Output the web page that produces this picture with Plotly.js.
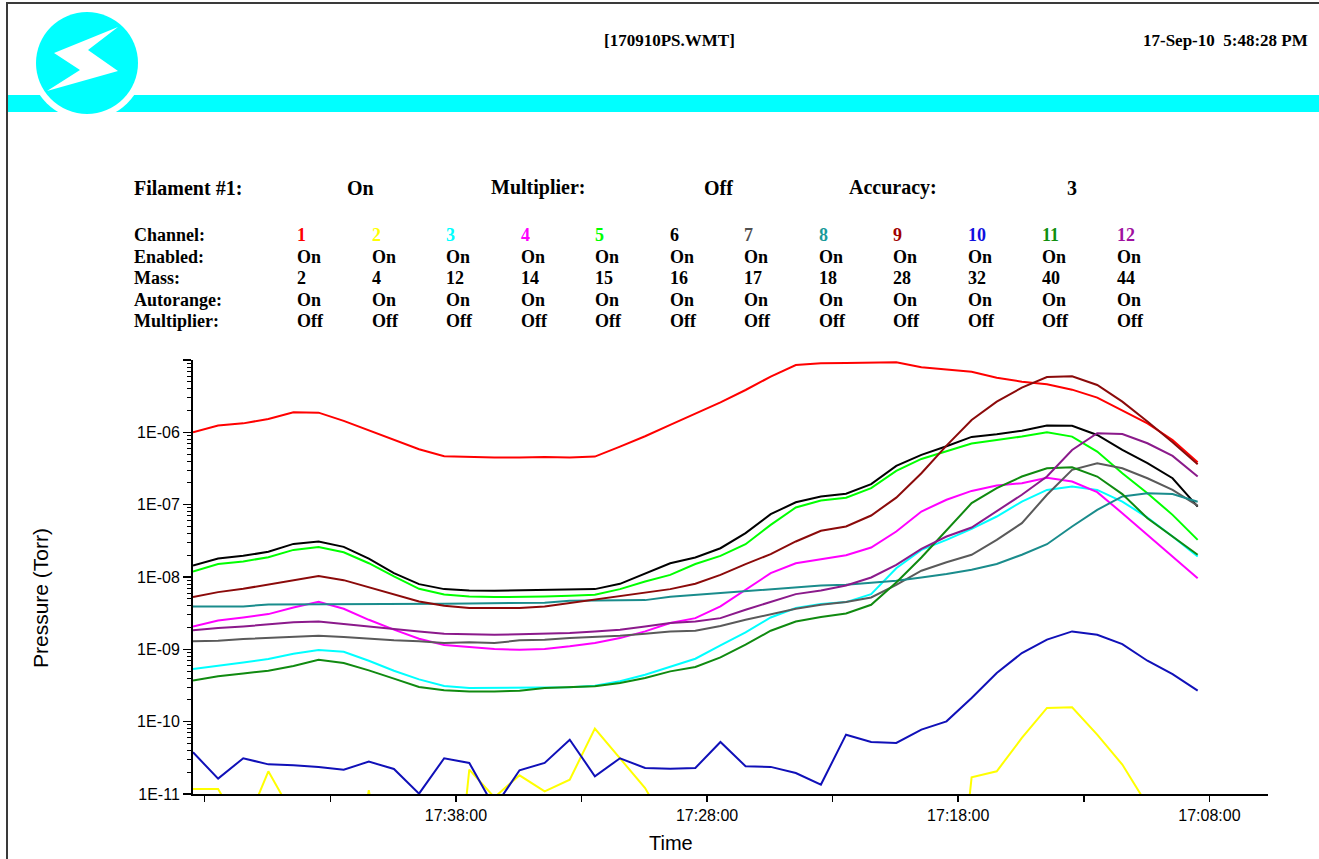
<!DOCTYPE html>
<html><head><meta charset="utf-8">
<script src="https://cdn.plot.ly/plotly-3.0.1.min.js"></script>
<style>html,body{margin:0;padding:0;background:#fff;overflow:hidden}#chart{width:1319px;height:859px}</style>
</head><body><div id="chart"></div>
<script>
// ---------------- data ----------------
const times = [
'2010-09-17 17:48:28','2010-09-17 17:47:28','2010-09-17 17:46:28','2010-09-17 17:45:28','2010-09-17 17:44:28',
'2010-09-17 17:43:28','2010-09-17 17:42:28','2010-09-17 17:41:28','2010-09-17 17:40:28','2010-09-17 17:39:28',
'2010-09-17 17:38:28','2010-09-17 17:37:28','2010-09-17 17:36:28','2010-09-17 17:35:28','2010-09-17 17:34:28',
'2010-09-17 17:33:28','2010-09-17 17:32:28','2010-09-17 17:31:28','2010-09-17 17:30:28','2010-09-17 17:29:28',
'2010-09-17 17:28:28','2010-09-17 17:27:28','2010-09-17 17:26:28','2010-09-17 17:25:28','2010-09-17 17:24:28',
'2010-09-17 17:23:28','2010-09-17 17:22:28','2010-09-17 17:21:28','2010-09-17 17:20:28','2010-09-17 17:19:28',
'2010-09-17 17:18:28','2010-09-17 17:17:28','2010-09-17 17:16:28','2010-09-17 17:15:28','2010-09-17 17:14:28',
'2010-09-17 17:13:28','2010-09-17 17:12:28','2010-09-17 17:11:28','2010-09-17 17:10:28','2010-09-17 17:09:28',
'2010-09-17 17:08:28'];

const channels   = ['1','2','3','4','5','6','7','8','9','10','11','12'];
const enabled    = ['On','On','On','On','On','On','On','On','On','On','On','On'];
const masses     = ['2','4','12','14','15','16','17','18','28','32','40','44'];
const autorange  = ['On','On','On','On','On','On','On','On','On','On','On','On'];
const multiplier = ['Off','Off','Off','Off','Off','Off','Off','Off','Off','Off','Off','Off'];
const rowLabels  = ['Channel:','Enabled:','Mass:','Autorange:','Multiplier:'];
const statusLabels = ['Filament #1:','On','Multiplier:','Off','Accuracy:','3'];
const fileName = '[170910PS.WMT]';
const stamp = '17-Sep-10\u00a0\u00a05:48:28 PM';

const numberColors = ['#ff0000','#ffff00','#00ffff','#ff00ff','#00ff00','#000000','#505050','#1a9a9a','#a00000','#1010e0','#109010','#a010a0'];
const lineColors   = ['#ff0000','#ffff00','#00ffff','#ff00ff','#00ff00','#000000','#5a5a5a','#1a8c8c','#8b0a0a','#1010b8','#108a10','#8b1a8b'];

const ch1 = [1.0e-6,1.24e-6,1.33e-6,1.53e-6,1.89e-6,1.87e-6,1.44e-6,1.07e-6,7.85e-7,5.84e-7,4.67e-7,4.53e-7,4.48e-7,4.48e-7,4.57e-7,4.48e-7,4.62e-7,6.35e-7,8.83e-7,1.27e-6,1.80e-6,2.60e-6,3.85e-6,5.89e-6,8.53e-6,9.0e-6,9.08e-6,9.29e-6,9.29e-6,7.92e-6,7.43e-6,6.90e-6,5.70e-6,5.02e-6,4.61e-6,3.89e-6,3.02e-6,1.98e-6,1.33e-6,7.85e-7,3.86e-7];
const ch2 = [1.17e-11,1.17e-11,3e-12,2.06e-11,5e-12,2e-12,1e-13,1.13e-11,1e-13,1e-13,1e-14,2.17e-11,9e-12,1.81e-11,1.09e-11,1.58e-11,8.0e-11,3.08e-11,1.21e-11,3e-12,1e-14,1e-14,1e-14,1e-14,1e-14,1e-14,1e-14,1e-14,1e-14,1e-14,1e-14,1.70e-11,2.06e-11,5.95e-11,1.55e-10,1.58e-10,6.61e-11,2.55e-11,7e-12,1e-14,1e-14];
const ch3 = [5.34e-10,6.0e-10,6.6e-10,7.34e-10,8.7e-10,9.77e-10,9.27e-10,6.96e-10,5.06e-10,3.84e-10,3.11e-10,2.92e-10,2.92e-10,2.92e-10,2.92e-10,2.98e-10,3.14e-10,3.61e-10,4.46e-10,5.69e-10,7.41e-10,1.13e-9,1.71e-9,2.76e-9,3.72e-9,4.22e-9,4.50e-9,5.80e-9,1.32e-8,2.37e-8,3.26e-8,4.63e-8,6.86e-8,1.10e-7,1.60e-7,1.78e-7,1.60e-7,1.10e-7,6.64e-8,3.63e-8,1.92e-8];
const ch4 = [2.07e-9,2.51e-9,2.76e-9,3.07e-9,3.79e-9,4.54e-9,3.64e-9,2.56e-9,1.87e-9,1.40e-9,1.15e-9,1.07e-9,1.01e-9,9.87e-10,1.01e-9,1.10e-9,1.22e-9,1.43e-9,1.77e-9,2.31e-9,2.70e-9,3.92e-9,6.66e-9,1.13e-8,1.55e-8,1.78e-8,2.00e-8,2.56e-8,4.26e-8,8.04e-8,1.17e-7,1.55e-7,1.84e-7,1.98e-7,2.35e-7,2.09e-7,1.49e-7,7.62e-8,3.83e-8,1.92e-8,9.64e-9];
const ch5 = [1.19e-8,1.51e-8,1.64e-8,1.88e-8,2.37e-8,2.59e-8,2.20e-8,1.55e-8,1.02e-8,6.87e-9,5.74e-9,5.38e-9,5.27e-9,5.27e-9,5.38e-9,5.50e-9,5.68e-9,6.80e-9,8.68e-9,1.07e-8,1.51e-8,1.96e-8,2.84e-8,5.26e-8,9.13e-8,1.14e-7,1.25e-7,1.69e-7,2.93e-7,4.29e-7,5.53e-7,6.99e-7,7.85e-7,8.73e-7,1.0e-6,8.73e-7,5.42e-7,2.72e-7,1.44e-7,7.23e-8,3.26e-8];
const ch6 = [1.44e-8,1.80e-8,1.96e-8,2.23e-8,2.87e-8,3.10e-8,2.61e-8,1.80e-8,1.13e-8,7.97e-9,6.80e-9,6.52e-9,6.45e-9,6.52e-9,6.66e-9,6.66e-9,6.80e-9,8.05e-9,1.11e-8,1.55e-8,1.86e-8,2.50e-8,4.04e-8,7.38e-8,1.08e-7,1.30e-7,1.42e-7,1.92e-7,3.44e-7,4.88e-7,6.42e-7,8.64e-7,9.40e-7,1.05e-6,1.24e-6,1.23e-6,9.2e-7,5.71e-7,3.74e-7,2.32e-7,9.42e-8];
const ch7 = [1.29e-9,1.31e-9,1.39e-9,1.43e-9,1.48e-9,1.54e-9,1.48e-9,1.40e-9,1.33e-9,1.29e-9,1.22e-9,1.25e-9,1.22e-9,1.33e-9,1.36e-9,1.43e-9,1.48e-9,1.54e-9,1.64e-9,1.77e-9,1.81e-9,2.10e-9,2.56e-9,3.07e-9,3.64e-9,4.13e-9,4.50e-9,5.21e-9,7.80e-9,1.22e-8,1.60e-8,2.03e-8,3.26e-8,5.55e-8,1.37e-7,3.03e-7,3.74e-7,3.19e-7,2.32e-7,1.60e-7,9.73e-8];
const ch8 = [3.92e-9,3.92e-9,3.92e-9,4.18e-9,4.18e-9,4.18e-9,4.18e-9,4.18e-9,4.18e-9,4.18e-9,4.27e-9,4.31e-9,4.36e-9,4.36e-9,4.40e-9,4.69e-9,4.74e-9,4.74e-9,4.79e-9,5.33e-9,5.68e-9,5.92e-9,6.45e-9,6.87e-9,7.17e-9,7.64e-9,7.80e-9,8.32e-9,8.87e-9,9.85e-9,1.10e-8,1.26e-8,1.51e-8,2.03e-8,2.84e-8,4.99e-8,8.47e-8,1.30e-7,1.44e-7,1.40e-7,1.10e-7];
const ch9 = [5.27e-9,6.18e-9,6.87e-9,7.88e-9,9.15e-9,1.03e-8,9.05e-9,7.24e-9,5.80e-9,4.59e-9,4.00e-9,3.72e-9,3.72e-9,3.72e-9,3.92e-9,4.36e-9,4.84e-9,5.38e-9,5.98e-9,6.80e-9,8.05e-9,1.07e-8,1.51e-8,2.07e-8,3.10e-8,4.35e-8,4.99e-8,7.08e-8,1.25e-7,2.72e-7,6.56e-7,1.48e-6,2.66e-6,4.15e-6,5.82e-6,5.95e-6,4.52e-6,2.66e-6,1.41e-6,7.29e-7,3.62e-7];
const ch10 = [3.77e-11,1.63e-11,3.12e-11,2.57e-11,2.49e-11,2.37e-11,2.17e-11,2.80e-11,2.22e-11,1.01e-11,3.12e-11,2.69e-11,6.5e-12,2.13e-11,2.69e-11,5.64e-11,1.76e-11,3.12e-11,2.29e-11,2.24e-11,2.29e-11,5.24e-11,2.42e-11,2.37e-11,1.95e-11,1.35e-11,6.61e-11,5.24e-11,5.07e-11,7.76e-11,1.01e-10,2.12e-10,4.70e-10,8.88e-10,1.36e-9,1.77e-9,1.59e-9,1.18e-9,6.96e-10,4.55e-10,2.68e-10];
const ch11 = [3.72e-10,4.23e-10,4.65e-10,5.06e-10,5.87e-10,7.18e-10,6.46e-10,5.12e-10,3.93e-10,3.01e-10,2.71e-10,2.62e-10,2.62e-10,2.68e-10,2.92e-10,3.01e-10,3.08e-10,3.42e-10,4.01e-10,4.96e-10,5.69e-10,7.74e-10,1.16e-9,1.81e-9,2.43e-9,2.79e-9,3.13e-9,4.13e-9,8.40e-9,1.86e-8,4.35e-8,1.05e-7,1.69e-7,2.45e-7,3.19e-7,3.29e-7,2.45e-7,1.40e-7,6.50e-8,3.63e-8,2.03e-8];
const ch12 = [1.83e-9,1.97e-9,2.07e-9,2.19e-9,2.36e-9,2.43e-9,2.26e-9,2.07e-9,1.91e-9,1.77e-9,1.64e-9,1.62e-9,1.59e-9,1.62e-9,1.64e-9,1.68e-9,1.77e-9,1.87e-9,2.07e-9,2.31e-9,2.43e-9,2.70e-9,3.52e-9,4.50e-9,5.80e-9,6.52e-9,7.64e-9,9.85e-9,1.47e-8,2.45e-8,3.63e-8,4.83e-8,8.04e-8,1.37e-7,2.45e-7,5.71e-7,9.7e-7,9.5e-7,7.06e-7,4.72e-7,2.45e-7];
const seriesList = [ch1,ch2,ch3,ch4,ch5,ch6,ch7,ch8,ch9,ch10,ch11,ch12];

const xTickVals = ['2010-09-17 17:48:00','2010-09-17 17:43:00','2010-09-17 17:38:00','2010-09-17 17:33:00','2010-09-17 17:28:00','2010-09-17 17:23:00','2010-09-17 17:18:00','2010-09-17 17:13:00','2010-09-17 17:08:00'];
const xTickText = ['','','17:38:00','','17:28:00','','17:18:00','','17:08:00'];
const yTickVals = [1e-11,1e-10,1e-9,1e-8,1e-7,1e-6,1e-5];
const yTickText = ['1E-11','1E-10','1E-09','1E-08','1E-07','1E-06',''];

// ---------------- layout helpers ----------------
const PL = 193, PR = 1268, PT = 360, PB = 794;
const fx = x => (x - PL) / (PR - PL);
const fy = y => (PB - y) / (PB - PT);

const yMinor = [];
for (let e = -11; e < -5; e++) for (let m = 2; m <= 9; m++) yMinor.push(m * Math.pow(10, e));

const traces = seriesList.map((s, i) => ({
  type: 'scatter', mode: 'lines', x: times, y: s,
  name: 'Ch ' + channels[i] + ' (mass ' + masses[i] + ')',
  line: {color: lineColors[i], width: 2}, hoverinfo: 'skip', showlegend: false
}));

const serif = 'Liberation Serif, Times New Roman, serif';
const sans = 'Liberation Sans, Arial, sans-serif';
const ann = [];
function txt(t, x, y, size, color, anchor) {
  ann.push({xref:'paper', yref:'paper', x: fx(x), y: fy(y), xanchor: anchor || 'left', yanchor: 'middle',
    showarrow: false, text: '<b>' + t + '</b>', borderpad: 0,
    font: {family: serif, size: size, color: color || '#000'}});
}
txt(fileName, 603, 40, 17);
txt(stamp, 1309, 40, 17, '#000', 'right');
const statusX = [133, 346, 490, 703, 848, 1066];
statusLabels.forEach((t, i) => txt(t, statusX[i], 188, 20));
const rowY = [235, 257, 278, 300, 321];
const rows = [channels, enabled, masses, autorange, multiplier];
rowLabels.forEach((t, r) => {
  txt(t, 133, rowY[r], 18);
  rows[r].forEach((v, c) => txt(v, 296 + 74.5 * c, rowY[r], 18, r === 0 ? numberColors[c] : '#000'));
});
ann.push({xref:'paper', yref:'paper', x: fx(671), y: fy(843), xanchor:'center', yanchor:'middle', showarrow:false,
  text:'Time', font:{family: sans, size: 20, color:'#000'}});
ann.push({xref:'paper', yref:'paper', x: fx(40), y: fy(598), xanchor:'center', yanchor:'middle', showarrow:false,
  textangle: -90, text:'Pressure (Torr)', font:{family: sans, size: 21, color:'#000'}});

// header graphics
const shapes = [];
shapes.push({type:'rect', xref:'paper', yref:'paper', x0: fx(7), x1: fx(1319), y0: fy(112), y1: fy(95),
  fillcolor:'#00ffff', line:{width:0}});
function circ(cx, cy, r, col) {
  shapes.push({type:'circle', xref:'paper', yref:'paper', x0: fx(cx - r), x1: fx(cx + r), y0: fy(cy + r), y1: fy(cy - r),
    fillcolor: col, line:{width:0}});
}
circ(87, 63, 57, '#ffffff');
circ(87, 63, 51, '#00ffff');
const bolt = [[118,27],[88,50],[118,71],[47,91],[80,70],[54,53]];
shapes.push({type:'path', xref:'paper', yref:'paper',
  path: 'M' + bolt.map(p => fx(p[0]) + ',' + fy(p[1])).join(' L') + ' Z',
  fillcolor:'#ffffff', line:{width:0}});
shapes.push({type:'path', xref:'paper', yref:'paper',
  path: 'M' + fx(7) + ',' + fy(870) + ' L' + fx(7) + ',' + fy(3) + ' L' + fx(1330) + ',' + fy(3),
  line:{color:'#3a3a3a', width:2}});

const layout = {
  width: 1319, height: 859,
  margin: {l: PL, r: 1319 - PR, t: PT, b: 859 - PB, pad: 0},
  paper_bgcolor: '#fff', plot_bgcolor: '#fff',
  showlegend: false, hovermode: false,
  xaxis: {type:'date', range:['2010-09-17 17:48:28','2010-09-17 17:05:40'],
    tickmode:'array', tickvals: xTickVals, ticktext: xTickText,
    ticks:'outside', ticklen:6, tickwidth:1.5, tickcolor:'#000',
    showline:true, linecolor:'#000', linewidth:2, showgrid:false, zeroline:false,
    tickfont:{family: sans, size:16, color:'#000'}},
  yaxis: {type:'log', range:[-11,-5], tickmode:'array', tickvals: yTickVals, ticktext: yTickText,
    ticks:'outside', ticklen:8, tickwidth:1.5, tickcolor:'#000',
    showline:true, linecolor:'#000', linewidth:2, showgrid:false, zeroline:false,
    tickfont:{family: sans, size:16, color:'#000'},
    minor:{tickmode:'array', tickvals: yMinor, ticks:'outside', ticklen:4, tickwidth:1, tickcolor:'#000', showgrid:false}},
  annotations: ann, shapes: shapes
};
Plotly.newPlot('chart', traces, layout, {displayModeBar:false, staticPlot:true});
</script></body></html>
